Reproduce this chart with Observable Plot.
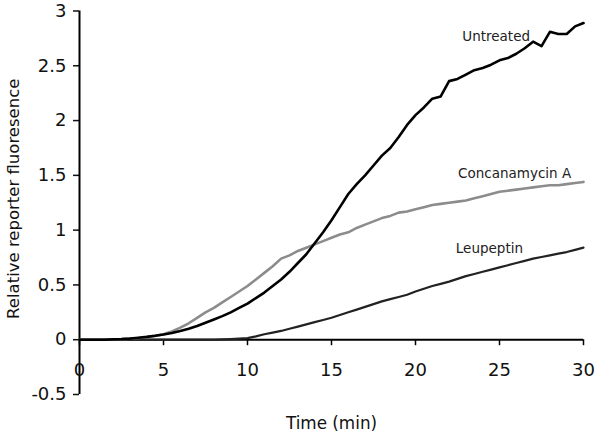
<!DOCTYPE html>
<html>
<head>
<meta charset="utf-8">
<script src="https://cdn.jsdelivr.net/npm/d3@7"></script>
<script src="https://cdn.jsdelivr.net/npm/@observablehq/plot@0.6"></script>
<style>
  html, body { margin: 0; padding: 0; background: #fff; }
  #chart svg { display: block; }
</style>
</head>
<body>
<div id="chart"></div>
<script>
// Time in minutes (0.5 min steps)
const time = [0,0.5,1,1.5,2,2.5,3,3.5,4,4.5,5,5.5,6,6.5,7,7.5,8,8.5,9,9.5,10,10.5,11,11.5,12,12.5,13,13.5,14,14.5,15,15.5,16,16.5,17,17.5,18,18.5,19,19.5,20,20.5,21,21.5,22,22.5,23,23.5,24,24.5,25,25.5,26,26.5,27,27.5,28,28.5,29,29.5,30];

const untreated = [0,0,0,0,0.003,0.005,0.01,0.018,0.026,0.036,0.048,0.062,0.08,0.10,0.125,0.155,0.185,0.215,0.25,0.29,0.33,0.38,0.43,0.49,0.55,0.62,0.70,0.78,0.88,0.98,1.09,1.21,1.33,1.42,1.50,1.59,1.68,1.75,1.85,1.96,2.05,2.12,2.20,2.22,2.36,2.38,2.42,2.46,2.48,2.51,2.55,2.57,2.61,2.66,2.72,2.68,2.81,2.79,2.79,2.86,2.89];

const concanamycin = [0,0,0,0,0.003,0.005,0.01,0.016,0.024,0.035,0.05,0.075,0.11,0.15,0.20,0.25,0.29,0.34,0.39,0.44,0.49,0.55,0.61,0.67,0.74,0.77,0.81,0.84,0.87,0.90,0.93,0.96,0.98,1.02,1.05,1.08,1.11,1.13,1.16,1.17,1.19,1.21,1.23,1.24,1.25,1.26,1.27,1.29,1.31,1.33,1.35,1.36,1.37,1.38,1.39,1.40,1.41,1.41,1.42,1.43,1.44];

const leupeptin = [0,0,0,0,0,0,0,0,0,0,0,0,0,0,0,0,0,0.003,0.006,0.01,0.015,0.03,0.05,0.065,0.08,0.10,0.12,0.14,0.16,0.18,0.20,0.225,0.25,0.275,0.30,0.325,0.35,0.37,0.39,0.41,0.44,0.465,0.49,0.51,0.53,0.555,0.58,0.60,0.62,0.64,0.66,0.68,0.70,0.72,0.74,0.755,0.77,0.785,0.80,0.82,0.84];

const xTicks = [0,5,10,15,20,25,30];
const yTicks = [-0.5,0,0.5,1,1.5,2,2.5,3];

const labelNames = ["Untreated","Concanamycin A","Leupeptin"];
const labelTime = [24.8, 25.9, 24.4];
const labelValue = [2.77, 1.515, 0.83];

const toRows = (vals) => time.map((t, i) => ({t, v: vals[i]}));
const labels = labelNames.map((name, i) => ({name, t: labelTime[i], v: labelValue[i]}));

const font = "'DejaVu Sans', Verdana, sans-serif";

const chart = Plot.plot({
  width: 600,
  height: 443,
  marginLeft: 79,
  marginRight: 17,
  marginTop: 10.5,
  marginBottom: 49,
  style: {fontFamily: font, fontSize: "18px", color: "#111", background: "#fff"},
  x: {domain: [0, 30], axis: null},
  y: {domain: [-0.5, 3]},
  marks: [
    Plot.axisY(yTicks, {tickSize: 6, tickPadding: 7, label: null, fontSize: 18, strokeWidth: 1.5, tickFormat: d => String(d)}),
    Plot.ruleX([0], {stroke: "#000", strokeWidth: 2}),
    Plot.ruleY([0], {stroke: "#000", strokeWidth: 2}),
    Plot.ruleX(xTicks, {x: d => d, y1: 0, y2: 0, insetBottom: -6, stroke: "#000", strokeWidth: 1.5}),
    Plot.text(xTicks, {x: d => d, y: 0, dy: 31, text: d => String(d), fontSize: 18, fill: "#111"}),
    Plot.line(toRows(leupeptin), {x: "t", y: "v", stroke: "#222", strokeWidth: 2.2}),
    Plot.line(toRows(concanamycin), {x: "t", y: "v", stroke: "#8c8c8c", strokeWidth: 2.6}),
    Plot.line(toRows(untreated), {x: "t", y: "v", stroke: "#000", strokeWidth: 2.6}),
    Plot.text(labels, {x: "t", y: "v", text: "name", fontSize: 13.5, fill: "#222"}),
    Plot.text(["Relative reporter fluoresence"], {frameAnchor: "left", textAnchor: "middle", rotate: -90, dx: -61, dy: -4, lineAnchor: "bottom", fontSize: 16.5, fill: "#111"}),
    Plot.text(["Time (min)"], {frameAnchor: "bottom", textAnchor: "middle", dy: 34, fontSize: 16.8, fill: "#111"})
  ]
});
document.getElementById("chart").appendChild(chart);
</script>
</body>
</html>
